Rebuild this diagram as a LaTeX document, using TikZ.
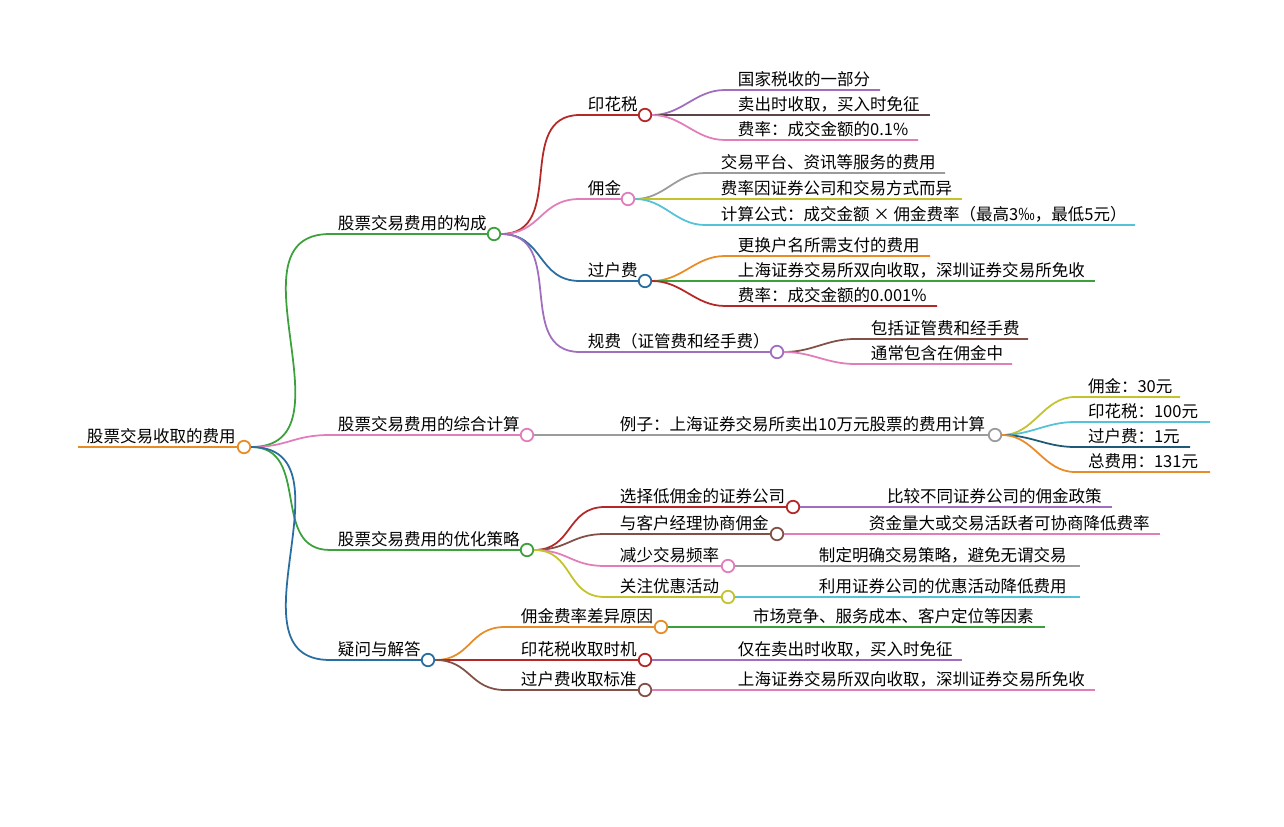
\documentclass[tikz,border=0pt]{standalone}
\usepackage{fontspec}
\newfontfamily\cjk{Noto Sans CJK SC}
\usetikzlibrary{positioning}
\definecolor{mmOrange}{RGB}{232,140,40}
\definecolor{mmGreen}{RGB}{60,160,60}
\definecolor{mmPink}{RGB}{225,125,185}
\definecolor{mmBlue}{RGB}{40,110,160}
\definecolor{mmRed}{RGB}{180,40,40}
\definecolor{mmPurple}{RGB}{160,110,190}
\definecolor{mmBrown}{RGB}{130,80,70}
\definecolor{mmGray}{RGB}{155,155,155}
\definecolor{mmOlive}{RGB}{195,195,45}
\definecolor{mmCyan}{RGB}{85,195,215}
\definecolor{mmDark}{RGB}{90,70,70}
\definecolor{mmNavy}{RGB}{30,90,120}

% #1 name, #2 colour, #3 parent, #4 start x, #5 y, #6 end x, #7 text x, #8 text
\newcommand{\mmnode}[8]{%
  \draw[edge, #2] (#3.east) to[out=0, in=180, looseness=1.2] (#4,#5) -- (#6,#5);
  \node[dot, draw=#2] (#1) at (#6,#5) {};
  \node[lbl] (#1-t) at (#7,#5) {#8};
}
\newcommand{\mmleaf}[8]{%
  \draw[edge, #2] (#3.east) to[out=0, in=180] (#4,#5) -- (#6,#5) coordinate (#1);
  \node[lbl] (#1-t) at (#7,#5) {#8};
}

\begin{document}
\begin{tikzpicture}[
  x=0.02cm, y=-0.02cm,
  edge/.style={line width=1pt},
  dot/.style={circle, fill=white, line width=1pt, inner sep=0pt, minimum size=0.25cm},
  lbl/.style={anchor=south west, inner sep=1.5pt, font=\cjk\fontsize{9.4}{10}\selectfont}
]
  \useasboundingbox (0,0) rectangle (1284,827);
  \fill[white] (0,0) rectangle (1284,827);

  % root
  \draw[edge, mmOrange] (78,447) -- (244,447);
  \node[dot, draw=mmOrange] (root) at (244,447) {};
  \node[lbl] (root-t) at (84,447) {股票交易收取的费用};

  % first level
  \mmnode{comp}{mmGreen}{root}{330}{234}{494}{335}{股票交易费用的构成}
  \mmnode{calc}{mmPink}{root}{330}{435}{527}{335}{股票交易费用的综合计算}
  \mmnode{opt}{mmGreen}{root}{330}{550}{527}{335}{股票交易费用的优化策略}
  \mmnode{qa}{mmBlue}{root}{330}{660}{428}{335}{疑问与解答}

  % composition
  \mmnode{stamp}{mmRed}{comp}{580}{115}{645}{585}{印花税}
  \mmnode{comm}{mmPink}{comp}{580}{199}{628}{585}{佣金}
  \mmnode{trans}{mmBlue}{comp}{580}{281}{645}{585}{过户费}
  \mmnode{reg}{mmPurple}{comp}{580}{352}{777}{585}{规费（证管费和经手费）}

  \mmleaf{stamp1}{mmPurple}{stamp}{725}{90}{880}{735}{国家税收的一部分}
  \mmleaf{stamp2}{mmDark}{stamp}{725}{115}{930}{735}{卖出时收取，买入时免征}
  \mmleaf{stamp3}{mmPink}{stamp}{725}{140}{918}{735}{费率：成交金额的0.1\%}

  \mmleaf{comm1}{mmGray}{comm}{705}{173}{945}{718}{交易平台、资讯等服务的费用}
  \mmleaf{comm2}{mmOlive}{comm}{705}{199}{962}{718}{费率因证券公司和交易方式而异}
  \mmleaf{comm3}{mmCyan}{comm}{705}{225}{1135}{718}{计算公式：成交金额 × 佣金费率（最高3‰，最低5元）}

  \mmleaf{trans1}{mmOrange}{trans}{725}{256}{930}{735}{更换户名所需支付的费用}
  \mmleaf{trans2}{mmGreen}{trans}{725}{281}{1095}{735}{上海证券交易所双向收取，深圳证券交易所免收}
  \mmleaf{trans3}{mmRed}{trans}{725}{306}{937}{735}{费率：成交金额的0.001\%}

  \mmleaf{reg1}{mmBrown}{reg}{855}{339}{1028}{868}{包括证管费和经手费}
  \mmleaf{reg2}{mmPink}{reg}{855}{364}{1012}{868}{通常包含在佣金中}

  % calculation
  \mmnode{ex}{mmGray}{calc}{600}{435}{995}{617}{例子：上海证券交易所卖出10万元股票的费用计算}
  \mmleaf{ex1}{mmOlive}{ex}{1075}{397}{1180}{1085}{佣金：30元}
  \mmleaf{ex2}{mmCyan}{ex}{1075}{422}{1210}{1085}{印花税：100元}
  \mmleaf{ex3}{mmNavy}{ex}{1075}{447}{1190}{1085}{过户费：1元}
  \mmleaf{ex4}{mmOrange}{ex}{1075}{472}{1210}{1085}{总费用：131元}

  % optimisation
  \mmnode{opt1}{mmRed}{opt}{605}{507}{793}{617}{选择低佣金的证券公司}
  \mmnode{opt2}{mmBrown}{opt}{605}{534}{777}{617}{与客户经理协商佣金}
  \mmnode{opt3}{mmPink}{opt}{605}{566}{728}{617}{减少交易频率}
  \mmnode{opt4}{mmOlive}{opt}{605}{597}{728}{617}{关注优惠活动}
  \mmleaf{opt1a}{mmPurple}{opt1}{800}{507}{1112}{884}{比较不同证券公司的佣金政策}
  \mmleaf{opt2a}{mmPink}{opt2}{784}{534}{1160}{866}{资金量大或交易活跃者可协商降低费率}
  \mmleaf{opt3a}{mmGray}{opt3}{735}{566}{1080}{816}{制定明确交易策略，避免无谓交易}
  \mmleaf{opt4a}{mmCyan}{opt4}{735}{597}{1080}{816}{利用证券公司的优惠活动降低费用}

  % questions
  \mmnode{qa1}{mmOrange}{qa}{505}{627}{661}{518}{佣金费率差异原因}
  \mmnode{qa2}{mmRed}{qa}{505}{660}{645}{518}{印花税收取时机}
  \mmnode{qa3}{mmBrown}{qa}{505}{690}{645}{518}{过户费收取标准}
  \mmleaf{qa1a}{mmGreen}{qa1}{668}{627}{1045}{750}{市场竞争、服务成本、客户定位等因素}
  \mmleaf{qa2a}{mmPurple}{qa2}{652}{660}{962}{735}{仅在卖出时收取，买入时免征}
  \mmleaf{qa3a}{mmPink}{qa3}{652}{690}{1095}{735}{上海证券交易所双向收取，深圳证券交易所免收}
\end{tikzpicture}
\end{document}
